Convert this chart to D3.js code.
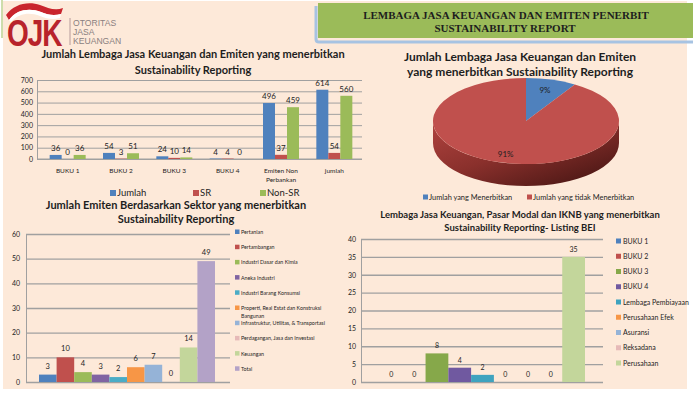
<!DOCTYPE html>
<html><head><meta charset="utf-8">
<script src="https://cdn.jsdelivr.net/npm/d3@7"></script>
<style>
body{margin:0;background:#fff;}
svg{display:block;font-family:Lato,"Open Sans",sans-serif;}
</style>
</head><body>
<svg id="c" width="700" height="394"></svg>
<script>
// ---------- DATA ----------
const bankCategories = ["BUKU 1","BUKU 2","BUKU 3","BUKU 4","Emiten Non Perbankan","jumlah"];
const bankSeries = ["Jumlah","SR","Non-SR"];
const jumlahValues = [36,54,24,4,496,614];
const srValues = [0,3,10,4,37,54];
const nonSrValues = [36,51,14,0,459,560];
const bankTicks = [0,100,200,300,400,500,600,700];

const pieLabels = ["Jumlah yang Menerbitkan","Jumlah yang tidak Menerbitkan"];
const pieValues = [54,560];

const sectorNames = ["Pertanian","Pertambangan","Industri Dasar dan Kimia","Aneka Industri","Industri Barang Konsumsi","Properti, Real Estat dan Konstruksi Bangunan","Infrastruktur, Utilitas, & Transportasi","Perdagangan, Jasa dan Investasi","Keuangan","Total"];
const sectorValues = [3,10,4,3,2,6,7,0,14,49];
const sectorTicks = [0,10,20,30,40,50,60];

const listingNames = ["BUKU 1","BUKU 2","BUKU 3","BUKU 4","Lembaga Pembiayaan","Perusahaan Efek","Asuransi","Reksadana","Perusahaan"];
const listingValues = [0,0,8,4,2,0,0,0,35];
const listingTicks = [0,5,10,15,20,25,30,35,40];

// ---------- STYLES ----------
const bankColors = ["#4f81bd","#c0504d","#9bbb59"];
const pieColors = ["#4f81bd","#c0504d"];
const sectorColors = ["#4f81bd","#c0504d","#9bbb59","#8064a2","#4bacc6","#f79646","#95b3d7","#e6b9b8","#c3d69b","#b3a2c7"];
const listingColors = ["#4f81bd","#c0504d","#86a84a","#7059a0","#3fa3bf","#f79646","#95b3d7","#e6b9b8","#c3d69b"];
const GRID = "#a0a0a0";
const TXT = "#1e1e1e";

const svg = d3.select("#c");

// ---------- BACKGROUND ----------
svg.append("rect").attr("x",3).attr("y",1).attr("width",684).attr("height",388).attr("fill","#fde9d9");
svg.append("line").attr("x1",2).attr("x2",2).attr("y1",0).attr("y2",38).attr("stroke","#9bbb59").attr("stroke-width",1);

// header
svg.append("rect").attr("x",318).attr("y",3).attr("width",375).attr("height",35).attr("fill","#9bbb59");
svg.append("path").attr("d","M316,6 L316,39 Q316,42 319,42 L693,42").attr("fill","none").attr("stroke","#a7c3e2").attr("stroke-width",3);
svg.append("text").attr("x",506).attr("y",19).attr("text-anchor","middle")
  .attr("font-family","'Liberation Serif','Times New Roman',serif").attr("font-weight","bold").attr("font-size",11).attr("fill",TXT)
  .text("LEMBAGA JASA KEUANGAN DAN EMITEN PENERBIT");
svg.append("text").attr("x",505).attr("y",32).attr("text-anchor","middle")
  .attr("font-family","'Liberation Serif','Times New Roman',serif").attr("font-weight","bold").attr("font-size",11).attr("fill",TXT)
  .text("SUSTAINABILITY REPORT");

// logo
const logo = svg.append("g");
logo.append("path").attr("d","M6,15 C14,4 28,1 40,5 C48,8 55,11 63,8 L61,14 C54,16 48,15 41,12 C30,8 17,9 9,20 Z").attr("fill","#c9252d");
logo.append("path").attr("d","M9,20 C17,9 30,8 41,12 C48,15 54,16 61,14 L60,18 C53,20 47,19 40,16 C30,12 19,13 11,22 Z").attr("fill","#ffffff");
logo.append("text").attr("transform","translate(7,46) scale(1,1.3)")
  .attr("font-family","'Liberation Sans',Arial,sans-serif").attr("font-weight","bold").attr("font-size",28)
  .attr("letter-spacing",-1).attr("fill","#b8232b").text("OJK");
logo.append("line").attr("x1",70).attr("x2",70).attr("y1",18).attr("y2",45).attr("stroke","#b59a9a").attr("stroke-width",1);
["OTORITAS","JASA","KEUANGAN"].forEach((t,i)=>{
  logo.append("text").attr("x",73).attr("y",25.5+i*9).attr("font-family","'Liberation Sans',Arial,sans-serif")
    .attr("font-size",8.6).attr("fill","#8a8080").text(t);
});

function title(lines, cx, y0, dy, size){
  lines.forEach((t,i)=>{
    svg.append("text").attr("x",cx).attr("y",y0+i*dy).attr("text-anchor","middle")
      .attr("font-weight","bold").attr("font-size",size).attr("fill",TXT).text(t);
  });
}
function styleAxis(g, size){
  g.select(".domain").attr("stroke",GRID);
  g.selectAll(".tick line").attr("stroke",GRID).attr("stroke-width",1);
  g.selectAll(".tick text").attr("font-size",size).attr("fill",TXT).attr("font-family","Lato,sans-serif");
}

// ---------- CHART 1 ----------
title(["Jumlah Lembaga Jasa Keuangan dan Emiten yang menerbitkan","Sustainability Reporting"],193,58,16,11);
const c1x0 = d3.scaleBand().domain(bankCategories).range([41,361]);
const c1x1 = d3.scaleBand().domain(bankSeries).range([0,36]);
const c1y = d3.scaleLinear().domain([0,700]).range([159,80]);
const bankData = [jumlahValues, srValues, nonSrValues];
const g1 = svg.append("g").attr("transform","translate(37,0)")
  .call(d3.axisLeft(c1y).tickValues(bankTicks).tickSize(-325).tickSizeOuter(0).tickPadding(4));
styleAxis(g1,7);
svg.append("line").attr("x1",37).attr("x2",362).attr("y1",c1y(0)).attr("y2",c1y(0)).attr("stroke",GRID);
const off1 = (c1x0.bandwidth()-36)/2;
bankSeries.forEach((s,si)=>{
  const vals = bankData[si];
  svg.append("g").selectAll("rect").data(bankCategories).join("rect")
    .attr("x",(c,i)=>c1x0(c)+off1+c1x1(s)).attr("width",c1x1.bandwidth())
    .attr("y",(c,i)=>c1y(vals[i])).attr("height",(c,i)=>c1y(0)-c1y(vals[i]))
    .attr("fill",bankColors[si]);
  svg.append("g").selectAll("text").data(bankCategories).join("text")
    .attr("x",(c,i)=>c1x0(c)+off1+c1x1(s)+c1x1.bandwidth()/2)
    .attr("y",(c,i)=>c1y(vals[i])-4).attr("text-anchor","middle")
    .attr("font-size",8).attr("fill",TXT).text((c,i)=>vals[i]);
});
svg.append("g").selectAll("text").data(bankCategories).join("text")
  .attr("x",c=>c1x0(c)+c1x0.bandwidth()/2).attr("y",173).attr("text-anchor","middle")
  .attr("font-size",6.5).attr("fill",TXT)
  .each(function(c){
    const w = c.split(" ");
    const lines = w.length>2 ? [w.slice(0,2).join(" "), w.slice(2).join(" ")] : [c];
    d3.select(this).selectAll("tspan").data(lines).join("tspan")
      .attr("x",c1x0(c)+c1x0.bandwidth()/2).attr("dy",(d,i)=>i?9:0).text(d=>d);
  });
const leg1x = d3.scalePoint().domain(bankSeries).range([110,260]);
bankSeries.forEach((s,i)=>{
  const x = s==="SR"?193:leg1x(s);
  svg.append("rect").attr("x",x).attr("y",190).attr("width",6).attr("height",6).attr("fill",bankColors[i]);
  svg.append("text").attr("x",x+7).attr("y",196).attr("font-size",9.5).attr("fill",TXT).text(s);
});

// ---------- CHART 2 (3D pie) ----------
title(["Jumlah Lembaga Jasa Keuangan dan Emiten","yang menerbitkan Sustainability Reporting"],520,61,15,12);
const pcx=526, pcy=121, prx=93, pry=43, depth=22;
const defs = svg.append("defs");
const grad = defs.append("linearGradient").attr("id","side").attr("x1",0).attr("y1",0).attr("x2",1).attr("y2",1);
grad.append("stop").attr("offset","0").attr("stop-color","#b0433f");
grad.append("stop").attr("offset","0.45").attr("stop-color","#8a302c");
grad.append("stop").attr("offset","1").attr("stop-color","#3e1210");
svg.append("path")
  .attr("d",`M${pcx-prx},${pcy} A${prx},${pry} 0 0 0 ${pcx+prx},${pcy} L${pcx+prx},${pcy+depth} A${prx},${pry} 0 0 1 ${pcx-prx},${pcy+depth} Z`)
  .attr("fill","url(#side)");
const pie = d3.pie().sort(null)(pieValues);
const arc = d3.arc().innerRadius(0).outerRadius(prx);
const pg = svg.append("g").attr("transform",`translate(${pcx},${pcy}) scale(1,${pry/prx})`);
pg.selectAll("path").data(pie).join("path").attr("d",arc).attr("fill",(d,i)=>pieColors[i]);
const total = d3.sum(pieValues);
const lr = [0.75,0.8];
pie.forEach((d,i)=>{
  const a = (d.startAngle+d.endAngle)/2;
  svg.append("text").attr("x",pcx+Math.sin(a)*prx*lr[i]).attr("y",pcy-Math.cos(a)*pry*lr[i]+3)
    .attr("text-anchor","middle").attr("font-size",8).attr("fill",TXT)
    .text(Math.round(pieValues[i]/total*100)+"%");
});
const leg2x=[423,527];
pieLabels.forEach((l,i)=>{
  svg.append("rect").attr("x",leg2x[i]).attr("y",194.5).attr("width",5).attr("height",5).attr("fill",pieColors[i]);
  svg.append("text").attr("x",leg2x[i]+6).attr("y",200).attr("font-size",7.4).attr("fill",TXT).text(l);
});

// ---------- CHART 3 ----------
title(["Jumlah Emiten Berdasarkan Sektor yang menerbitkan","Sustainability Reporting"],176,209,14,11);
const c3x = d3.scaleBand().domain(sectorNames).range([39,215]);
const c3y = d3.scaleLinear().domain([0,60]).range([382,234]);
const g3 = svg.append("g").attr("transform","translate(26,0)")
  .call(d3.axisLeft(c3y).tickValues(sectorTicks).tickSize(-204).tickSizeOuter(0).tickPadding(6));
styleAxis(g3,7);
g3.selectAll(".tick line").attr("stroke-width",1.3);
svg.append("g").selectAll("rect").data(sectorNames).join("rect")
  .attr("x",d=>c3x(d)).attr("width",c3x.bandwidth())
  .attr("y",(d,i)=>c3y(sectorValues[i])).attr("height",(d,i)=>c3y(0)-c3y(sectorValues[i]))
  .attr("fill",(d,i)=>sectorColors[i]);
svg.append("g").selectAll("text").data(sectorNames).join("text")
  .attr("x",d=>c3x(d)+c3x.bandwidth()/2).attr("y",(d,i)=>c3y(sectorValues[i])-6)
  .attr("text-anchor","middle").attr("font-size",7.5).attr("fill",TXT).text((d,i)=>sectorValues[i]);
sectorNames.forEach((n,i)=>{
  const y = 232+i*15.2;
  svg.append("rect").attr("x",235).attr("y",y-2.5).attr("width",4.5).attr("height",4.5).attr("fill",sectorColors[i]);
  const t = svg.append("text").attr("x",241).attr("y",y+2).attr("font-size",5.3).attr("fill",TXT);
  if(n.indexOf("Bangunan")>0){
    t.append("tspan").attr("x",241).text(n.replace(" Bangunan",""));
    t.append("tspan").attr("x",241).attr("dy",8).text("Bangunan");
  } else t.text(n);
});

// ---------- CHART 4 ----------
title(["Lembaga Jasa Keuangan, Pasar Modal dan IKNB yang menerbitkan","Sustainability Reporting- Listing BEI"],520,218,12.5,9.5);
const c4x = d3.scaleBand().domain(listingNames).range([380,585]);
const c4y = d3.scaleLinear().domain([0,40]).range([382,239]);
const g4 = svg.append("g").attr("transform","translate(361,0)")
  .call(d3.axisLeft(c4y).tickValues(listingTicks).tickSize(-242).tickSizeOuter(0).tickPadding(5));
styleAxis(g4,7);
g4.selectAll(".tick line").attr("stroke-width",1.3);
svg.append("g").selectAll("rect").data(listingNames).join("rect")
  .attr("x",d=>c4x(d)).attr("width",c4x.bandwidth())
  .attr("y",(d,i)=>c4y(listingValues[i])).attr("height",(d,i)=>c4y(0)-c4y(listingValues[i]))
  .attr("fill",(d,i)=>listingColors[i]);
svg.append("g").selectAll("text").data(listingNames).join("text")
  .attr("x",d=>c4x(d)+c4x.bandwidth()/2).attr("y",(d,i)=>c4y(listingValues[i])-5)
  .attr("text-anchor","middle").attr("font-size",7).attr("fill",TXT).text((d,i)=>listingValues[i]);
listingNames.forEach((n,i)=>{
  const y = 241+i*15.25;
  svg.append("rect").attr("x",616).attr("y",y-2.5).attr("width",5).attr("height",5).attr("fill",listingColors[i]);
  svg.append("text").attr("x",623).attr("y",y+2.5).attr("font-size",7).attr("fill",TXT).text(n);
});
</script>
</body></html>
